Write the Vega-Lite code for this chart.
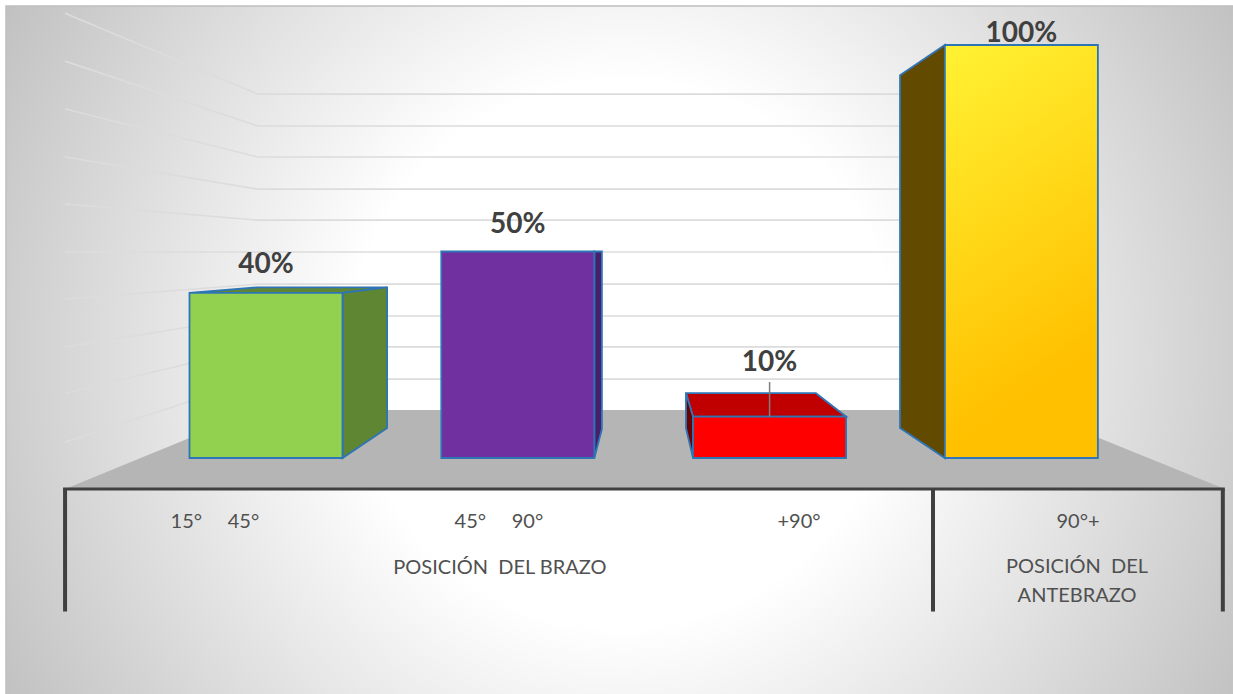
{
  "$schema": "https://vega.github.io/schema/vega-lite/v6.json",
  "width": 1233,
  "height": 694,
  "padding": 0,
  "autosize": {"type": "none"},
  "background": "#ffffff",
  "config": {"view": {"stroke": null}, "scale": {"continuousPadding": 0}},
  "datasets": {
    "lienzo": [{"izq": -1.0326, "der": 3.87, "arriba": 1.0944, "abajo": -0.59}],
    "suelo": [
      {"x": -0.798, "tope": -0.075, "base": -0.075},
      {"x": -0.032, "tope": 0.1162, "base": -0.075},
      {"x": 3.034, "tope": 0.1162, "base": -0.075},
      {"x": 3.808, "tope": -0.075, "base": -0.075}
    ],
    "rejilla": [
      {"nivel": 1, "x": -0.798, "y": 1.077}, {"nivel": 1, "x": -0.032, "y": 0.881}, {"nivel": 1, "x": 3.034, "y": 0.881},
      {"nivel": 2, "x": -0.798, "y": 0.961}, {"nivel": 2, "x": -0.032, "y": 0.804}, {"nivel": 2, "x": 3.034, "y": 0.804},
      {"nivel": 3, "x": -0.798, "y": 0.845}, {"nivel": 3, "x": -0.032, "y": 0.729}, {"nivel": 3, "x": 3.034, "y": 0.729},
      {"nivel": 4, "x": -0.798, "y": 0.729}, {"nivel": 4, "x": -0.032, "y": 0.651}, {"nivel": 4, "x": 3.034, "y": 0.651},
      {"nivel": 5, "x": -0.798, "y": 0.615}, {"nivel": 5, "x": -0.032, "y": 0.576}, {"nivel": 5, "x": 3.034, "y": 0.576},
      {"nivel": 6, "x": -0.798, "y": 0.499}, {"nivel": 6, "x": -0.032, "y": 0.499}, {"nivel": 6, "x": 3.034, "y": 0.499},
      {"nivel": 7, "x": -0.798, "y": 0.385}, {"nivel": 7, "x": -0.032, "y": 0.421}, {"nivel": 7, "x": 3.034, "y": 0.421},
      {"nivel": 8, "x": -0.798, "y": 0.269}, {"nivel": 8, "x": -0.032, "y": 0.344}, {"nivel": 8, "x": 3.034, "y": 0.344},
      {"nivel": 9, "x": -0.798, "y": 0.157}, {"nivel": 9, "x": -0.032, "y": 0.269}, {"nivel": 9, "x": 3.034, "y": 0.269},
      {"nivel": 10, "x": -0.798, "y": 0.039}, {"nivel": 10, "x": -0.032, "y": 0.191}, {"nivel": 10, "x": 3.034, "y": 0.191}
    ],
    "barras": [
      {"categoria": "15° 45°", "cara": "15-45 frente", "pos": 0, "valor": 0.4, "alturaEtiqueta": 0.448},
      {"categoria": "45° 90°", "cara": "45-90 frente", "pos": 1, "valor": 0.5, "alturaEtiqueta": 0.545},
      {"categoria": "+90°", "cara": "+90 frente", "pos": 2, "valor": 0.1, "alturaEtiqueta": 0.21, "guia": 0.184},
      {"categoria": "90°+", "cara": "90+ frente", "pos": 3, "valor": 1, "alturaEtiqueta": 1.007}
    ],
    "caras": [
      {"cara": "15-45 tapa", "x": -0.304, "tope": 0.4, "base": 0.4},
      {"cara": "15-45 tapa", "x": -0.036, "tope": 0.413, "base": 0.4},
      {"cara": "15-45 tapa", "x": 0.304, "tope": 0.413, "base": 0.4},
      {"cara": "15-45 tapa", "x": 0.481, "tope": 0.413, "base": 0.413},
      {"cara": "15-45 lado", "x": 0.304, "tope": 0.4, "base": 0},
      {"cara": "15-45 lado", "x": 0.481, "tope": 0.413, "base": 0.0726},
      {"cara": "45-90 lado", "x": 1.304, "tope": 0.5, "base": 0},
      {"cara": "45-90 lado", "x": 1.334, "tope": 0.5, "base": 0.0702},
      {"cara": "+90 tapa", "x": 1.668, "tope": 0.157, "base": 0.157},
      {"cara": "+90 tapa", "x": 1.696, "tope": 0.157, "base": 0.1},
      {"cara": "+90 tapa", "x": 2.184, "tope": 0.157, "base": 0.1},
      {"cara": "+90 tapa", "x": 2.304, "tope": 0.1, "base": 0.1},
      {"cara": "+90 lado", "x": 1.668, "tope": 0.157, "base": 0.0726},
      {"cara": "+90 lado", "x": 1.696, "tope": 0.1, "base": 0},
      {"cara": "90+ lado", "x": 2.518, "tope": 0.927, "base": 0.0726},
      {"cara": "90+ lado", "x": 2.696, "tope": 1, "base": 0}
    ],
    "divisiones": [{"x": -0.798}, {"x": 2.649}, {"x": 3.8}],
    "rotulos": [
      {"texto": "15°\u00a0\u00a0\u00a0\u00a0\u00a045°", "x": -0.203, "y": -0.1695},
      {"texto": "45°\u00a0\u00a0\u00a0\u00a0\u00a090°", "x": 0.925, "y": -0.1695},
      {"texto": "+90°", "x": 2.117, "y": -0.1695},
      {"texto": "90°+", "x": 3.225, "y": -0.1695},
      {"texto": "POSICIÓN\u00a0\u00a0DEL BRAZO", "x": 0.929, "y": -0.281},
      {"texto": "POSICIÓN\u00a0\u00a0DEL", "x": 3.221, "y": -0.278},
      {"texto": "ANTEBRAZO", "x": 3.221, "y": -0.3487}
    ]
  },
  "layer": [
    {
      "data": {"name": "lienzo"},
      "mark": {
        "type": "rect",
        "stroke": "#bfbfbf",
        "strokeWidth": 1.5,
        "color": {
          "gradient": "radial",
          "x1": 0.5, "y1": 0.5, "r1": 0,
          "x2": 0.5, "y2": 0.5, "r2": 0.58,
          "stops": [
            {"offset": 0, "color": "#ffffff"},
            {"offset": 0.38, "color": "#ffffff"},
            {"offset": 1, "color": "#c0c0c0"}
          ]
        }
      },
      "encoding": {
        "x": {"field": "izq", "type": "quantitative", "scale": {"domain": [-1.0564, 3.8404], "nice": false, "zero": false}, "axis": null},
        "x2": {"field": "der"},
        "y": {"field": "arriba", "type": "quantitative", "scale": {"domain": [-0.5714, 1.109], "nice": false, "zero": false}, "axis": null},
        "y2": {"field": "abajo"}
      }
    },
    {
      "data": {"name": "rejilla"},
      "mark": {"type": "line", "stroke": "#dcdcdc", "strokeWidth": 1.6},
      "encoding": {
        "x": {"field": "x", "type": "quantitative", "scale": {"domain": [-1.0564, 3.8404], "nice": false, "zero": false}, "axis": null},
        "y": {"field": "y", "type": "quantitative", "scale": {"domain": [-0.5714, 1.109], "nice": false, "zero": false}, "axis": null},
        "detail": {"field": "nivel"}
      }
    },
    {
      "data": {"name": "suelo"},
      "mark": {"type": "area", "color": "#b5b5b5", "opacity": 1},
      "encoding": {
        "x": {"field": "x", "type": "quantitative", "scale": {"domain": [-1.0564, 3.8404], "nice": false, "zero": false}, "axis": null},
        "y": {"field": "tope", "type": "quantitative", "scale": {"domain": [-0.5714, 1.109], "nice": false, "zero": false}, "axis": null},
        "y2": {"field": "base"}
      }
    },
    {
      "data": {"name": "caras"},
      "mark": {"type": "area", "stroke": "#2e75b6", "strokeWidth": 1.8, "opacity": 1},
      "encoding": {
        "x": {"field": "x", "type": "quantitative", "scale": {"domain": [-1.0564, 3.8404], "nice": false, "zero": false}, "axis": null},
        "y": {"field": "tope", "type": "quantitative", "scale": {"domain": [-0.5714, 1.109], "nice": false, "zero": false}, "axis": null},
        "y2": {"field": "base"},
        "color": {
          "field": "cara",
          "type": "nominal",
          "legend": null,
          "scale": {
            "domain": ["15-45 tapa", "15-45 lado", "45-90 lado", "+90 tapa", "+90 lado", "90+ lado", "15-45 frente", "45-90 frente", "+90 frente", "90+ frente"],
            "range": ["#5f8632", "#5f8632", "#47206b", "#c00000", "#6b0000", "#624a00", "#92d050", "#7030a0", "#ff0000", "#ffc000"]
          }
        }
      }
    },
    {
      "data": {"name": "barras"},
      "transform": [{"filter": "datum.pos < 3"}],
      "mark": {"type": "bar", "orient": "vertical", "width": 153, "stroke": "#2e75b6", "strokeWidth": 1.8, "opacity": 1},
      "encoding": {
        "x": {"field": "pos", "type": "quantitative", "scale": {"domain": [-1.0564, 3.8404], "nice": false, "zero": false}, "axis": null},
        "y": {"field": "valor", "type": "quantitative", "scale": {"domain": [-0.5714, 1.109], "nice": false, "zero": false}, "axis": null},
        "y2": {"datum": 0},
        "color": {
          "field": "cara",
          "type": "nominal",
          "legend": null,
          "scale": {
            "domain": ["15-45 tapa", "15-45 lado", "45-90 lado", "+90 tapa", "+90 lado", "90+ lado", "15-45 frente", "45-90 frente", "+90 frente", "90+ frente"],
            "range": ["#5f8632", "#5f8632", "#47206b", "#c00000", "#6b0000", "#624a00", "#92d050", "#7030a0", "#ff0000", "#ffc000"]
          }
        }
      }
    },
    {
      "data": {"name": "barras"},
      "transform": [{"filter": "datum.pos === 3"}],
      "mark": {
        "type": "bar",
        "orient": "vertical",
        "width": 153,
        "stroke": "#2e75b6",
        "strokeWidth": 1.8,
        "opacity": 1,
        "color": {
          "gradient": "linear",
          "x1": 0, "y1": 0, "x2": 0.25, "y2": 1,
          "stops": [
            {"offset": 0, "color": "#fff233"},
            {"offset": 0.92, "color": "#ffc000"},
            {"offset": 1, "color": "#ffc000"}
          ]
        }
      },
      "encoding": {
        "x": {"field": "pos", "type": "quantitative", "scale": {"domain": [-1.0564, 3.8404], "nice": false, "zero": false}, "axis": null},
        "y": {"field": "valor", "type": "quantitative", "scale": {"domain": [-0.5714, 1.109], "nice": false, "zero": false}, "axis": null},
        "y2": {"datum": 0}
      }
    },
    {
      "data": {"name": "barras"},
      "transform": [{"filter": "isValid(datum.guia)"}],
      "mark": {"type": "rule", "stroke": "#7f7f7f", "strokeWidth": 1.5},
      "encoding": {
        "x": {"field": "pos", "type": "quantitative", "scale": {"domain": [-1.0564, 3.8404], "nice": false, "zero": false}, "axis": null},
        "y": {"field": "valor", "type": "quantitative", "scale": {"domain": [-0.5714, 1.109], "nice": false, "zero": false}, "axis": null},
        "y2": {"field": "guia"}
      }
    },
    {
      "data": {"name": "barras"},
      "mark": {"type": "text", "font": "Lato", "fontWeight": "bold", "fontSize": 28, "color": "#404040", "align": "center", "baseline": "alphabetic"},
      "encoding": {
        "x": {"field": "pos", "type": "quantitative", "scale": {"domain": [-1.0564, 3.8404], "nice": false, "zero": false}, "axis": null},
        "y": {"field": "alturaEtiqueta", "type": "quantitative", "scale": {"domain": [-0.5714, 1.109], "nice": false, "zero": false}, "axis": null},
        "text": {"field": "valor", "type": "quantitative", "format": ".0%"}
      }
    },
    {
      "data": {"name": "divisiones"},
      "mark": {"type": "rule", "stroke": "#404040", "strokeWidth": 4},
      "encoding": {
        "x": {"field": "x", "type": "quantitative", "scale": {"domain": [-1.0564, 3.8404], "nice": false, "zero": false}, "axis": null},
        "y": {"datum": -0.075, "type": "quantitative", "scale": {"domain": [-0.5714, 1.109], "nice": false, "zero": false}, "axis": null},
        "y2": {"datum": -0.3717}
      }
    },
    {
      "data": {"values": [{"desde": -0.806, "hasta": 3.808, "nivel": -0.075}]},
      "mark": {"type": "rule", "stroke": "#404040", "strokeWidth": 3},
      "encoding": {
        "x": {"field": "desde", "type": "quantitative", "scale": {"domain": [-1.0564, 3.8404], "nice": false, "zero": false}, "axis": null},
        "x2": {"field": "hasta"},
        "y": {"field": "nivel", "type": "quantitative", "scale": {"domain": [-0.5714, 1.109], "nice": false, "zero": false}, "axis": null}
      }
    },
    {
      "data": {"name": "rotulos"},
      "mark": {"type": "text", "font": "Lato", "fontSize": 20, "color": "#505050", "align": "center", "baseline": "alphabetic"},
      "encoding": {
        "x": {"field": "x", "type": "quantitative", "scale": {"domain": [-1.0564, 3.8404], "nice": false, "zero": false}, "axis": null},
        "y": {"field": "y", "type": "quantitative", "scale": {"domain": [-0.5714, 1.109], "nice": false, "zero": false}, "axis": null},
        "text": {"field": "texto", "type": "nominal"}
      }
    }
  ]
}
